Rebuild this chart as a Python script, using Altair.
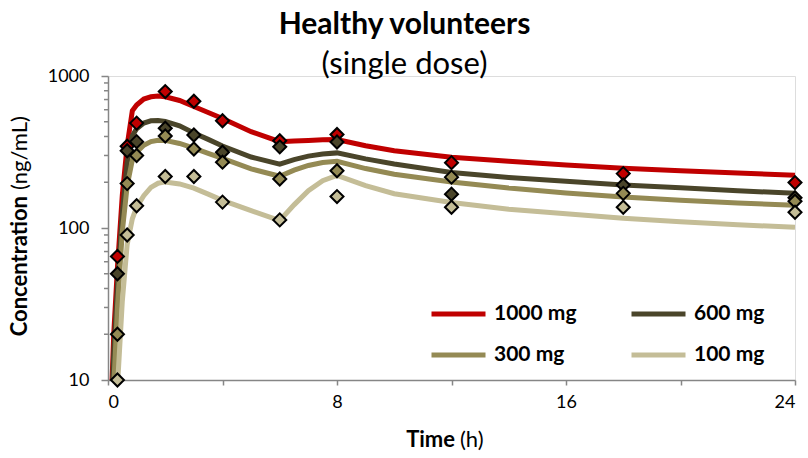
import altair as alt
import pandas as pd

# ---------------- data ----------------
series = ["1000 mg", "600 mg", "300 mg", "100 mg"]
colors = ["#C00000", "#4A452A", "#948A54", "#C4BD97"]

# observed concentrations (diamonds)
obs_time = [0.33, 0.67, 1, 2, 3, 4, 6, 8, 12, 18, 24]
obs_1000 = [65, 345, 490, 790, 682, 508, 375, 412, 269, 228, 199]
obs_600 = [50, 322, 370, 453, 409, 315, 342, 368, 167, 192, 158]
obs_300 = [20, 196, 300, 403, 331, 271, 210, 238, 216, 169, 150]
obs_100 = [10, 90, 140, 218, 218, 148, 113, 161, 137, 137, 127]

# model-predicted curves (lines)
fit_time = [0.1, 0.2, 0.33, 0.5, 0.67, 0.85, 1, 1.25, 1.5, 1.75, 2, 2.5, 3, 3.5, 4,
            5, 6, 6.5, 7, 7.5, 8, 9, 10, 12, 14, 16, 18, 20, 22, 24]
fit_1000 = [6, 20, 55, 165, 350, 590, 645, 705, 730, 738, 730, 690, 630, 575, 525,
            430, 370, 373, 377, 380, 382, 348, 322, 292, 275, 260, 247, 238, 230, 222]
fit_600 = [5, 15, 42, 125, 270, 405, 450, 490, 507, 510, 503, 470, 422, 383, 346,
           293, 263, 282, 297, 307, 312, 285, 264, 232, 215, 203, 192, 184, 176, 169]
fit_300 = [3, 9, 30, 95, 190, 280, 315, 350, 370, 378, 377, 360, 335, 310, 287,
           245, 219, 240, 258, 270, 275, 246, 226, 201, 183, 170, 160, 152, 146, 141]
fit_100 = [1, 3, 9, 33, 78, 115, 137, 163, 185, 197, 201, 195, 183, 167, 152,
           130, 112, 142, 176, 205, 222, 190, 168, 147, 133, 124, 116, 110, 105, 101]

x_ticks = [0, 4, 8, 12, 16, 20, 24]
y_major = [10, 100, 1000]
y_minor = [20, 30, 40, 50, 60, 70, 80, 90, 200, 300, 400, 500, 600, 700, 800, 900]

# ---------------- tables ----------------
obs_vals = [obs_1000, obs_600, obs_300, obs_100]
fit_vals = [fit_1000, fit_600, fit_300, fit_100]

obs_df = pd.DataFrame(
    [{"dose": s, "time": t, "conc": v, "k": i}
     for i, (s, vals) in enumerate(zip(series, obs_vals))
     for t, v in zip(obs_time, vals)]
)
fit_df = pd.DataFrame(
    [{"dose": s, "time": t, "conc": v}
     for s, vals in zip(series, fit_vals)
     for t, v in zip(fit_time, vals)]
)
minor_df = pd.DataFrame({"conc": y_minor})
one = pd.DataFrame({"a": [0]})

FONT = "Lato"
AX = "#868686"

x_scale = alt.Scale(domain=[0, 24], nice=False, zero=False)
y_scale = alt.Scale(type="log", domain=[10, 1000], nice=False)
color_scale = alt.Scale(domain=series, range=colors)

x_axis = alt.Axis(values=x_ticks, labelExpr="datum.value % 8 === 0 ? datum.label : ''",
                  title=None, grid=False, tickSize=5, labelPadding=8,
                  domainColor=AX, tickColor=AX, domainWidth=1.5, tickWidth=1.5,
                  labelFont=FONT, labelFontSize=18, labelColor="black")
y_axis = alt.Axis(values=y_major, format="d", title=None, grid=False, tickSize=7,
                  labelPadding=12, domainColor=AX, tickColor=AX, domainWidth=1.5,
                  tickWidth=1.5, labelFont=FONT, labelFontSize=18, labelColor="black")

lines = alt.Chart(fit_df).mark_line(strokeWidth=5, clip=True).encode(
    x=alt.X("time:Q", scale=x_scale, axis=x_axis),
    y=alt.Y("conc:Q", scale=y_scale, axis=y_axis),
    color=alt.Color("dose:N", scale=color_scale, sort=series, legend=alt.Legend(
        title=None, orient="none", legendX=321, legendY=226, columns=2,
        direction="horizontal",
        symbolType="stroke", symbolSize=2916, symbolStrokeWidth=5,
        labelFont=FONT, labelFontSize=21, labelFontWeight="bold", labelColor="black",
        labelOffset=6, columnPadding=52, rowPadding=17, clipHeight=24, padding=0)),
    order=alt.Order("time:Q"),
)

points = alt.Chart(obs_df).mark_point(
    shape="diamond", filled=True, size=170, stroke="black", strokeWidth=2, opacity=1
).encode(
    x=alt.X("time:Q", scale=x_scale),
    y=alt.Y("conc:Q", scale=y_scale),
    fill=alt.Fill("dose:N", scale=color_scale, legend=None),
    order=alt.Order("k:Q"),
)

minor = alt.Chart(minor_df).mark_rule(color=AX, strokeWidth=1.5).encode(
    y=alt.Y("conc:Q", scale=y_scale),
    x=alt.value(-4), x2=alt.value(0),
)

def label(txt, weight, align, x, y, angle=0):
    return alt.Chart(one).mark_text(
        text=txt, font=FONT, fontSize=22, fontWeight=weight, align=align,
        baseline="alphabetic" if angle == 0 else "middle", angle=angle, color="black"
    ).encode(x=alt.value(x), y=alt.value(y))

x_title_a = label("Time", "bold", "right", 347, 371)
x_title_b = label("(h)", "normal", "left", 352, 371)
y_title_a = label("Concentration", "bold", "right", -88, 120, 270)
y_title_b = label("(ng/mL)", "normal", "left", -88, 114, 270)

chart = alt.layer(
    lines, minor, points, x_title_a, x_title_b, y_title_a, y_title_b
).properties(
    width=687, height=304,
    title=alt.TitleParams(
        text="Healthy volunteers", subtitle="(single dose)", font=FONT,
        subtitleFont=FONT, fontSize=30, fontWeight="bold", subtitleFontSize=31,
        subtitleFontWeight="normal", color="black", subtitleColor="black",
        anchor="middle", frame="group", dx=-47, dy=13, offset=0, subtitlePadding=10,
    ),
    autosize=alt.AutoSizeParams(type="none"),
    padding={"left": 108, "top": 76, "right": 13, "bottom": 78},
).configure_view(stroke=None).configure(font=FONT)

chart.save("out.html", embed_options={"renderer": "svg", "actions": False})
